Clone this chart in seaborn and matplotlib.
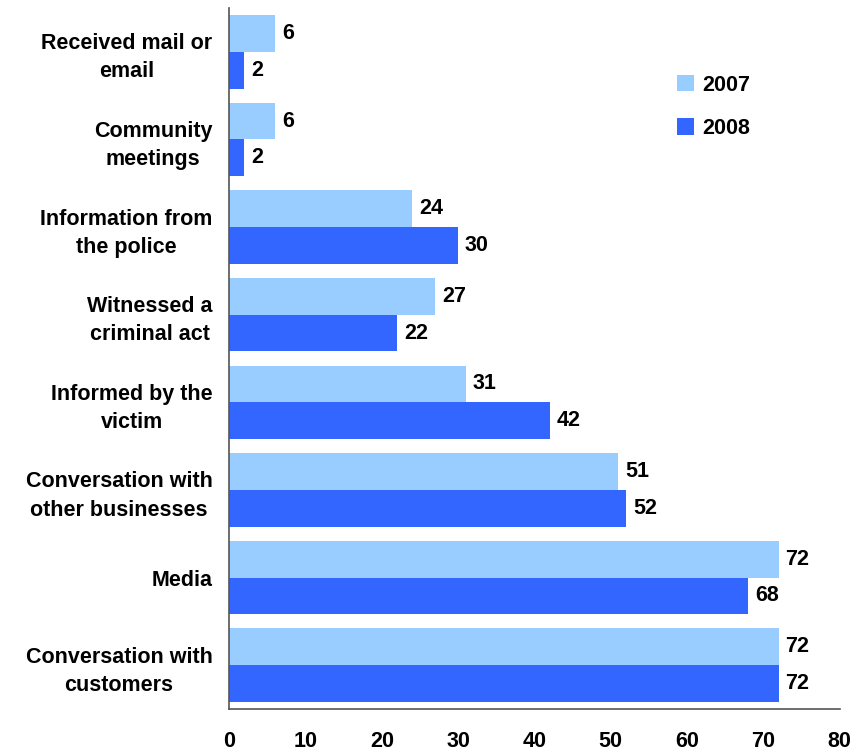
import matplotlib
matplotlib.use("Agg")
import matplotlib.pyplot as plt
import seaborn as sns
import pandas as pd
from matplotlib.patches import Patch

categories = ["Received mail or\nemail", "Community\nmeetings", "Information from\nthe police",
              "Witnessed a\ncriminal act", "Informed by the\nvictim",
              "Conversation with\nother businesses", "Media", "Conversation with\ncustomers"]
vals_2007 = [6, 6, 24, 27, 31, 51, 72, 72]
vals_2008 = [2, 2, 30, 22, 42, 52, 68, 72]
series = ["2007", "2008"]
colors = ["#99CCFF", "#3366FF"]
xticks = [0, 10, 20, 30, 40, 50, 60, 70, 80]

df = pd.DataFrame({
    "cat": categories * 2,
    "val": vals_2007 + vals_2008,
    "year": [series[0]] * len(categories) + [series[1]] * len(categories),
})

sns.set_style("white")
plt.rcParams["font.family"] = ["Liberation Sans", "DejaVu Sans"]
plt.rcParams["font.weight"] = "bold"
plt.rcParams["text.color"] = "black"
plt.rcParams["xtick.color"] = "black"
plt.rcParams["ytick.color"] = "black"

fig = plt.figure(figsize=(8.55, 7.53), dpi=100)
ax = fig.add_axes([0.268, 0.0584, 0.714, 0.931])
sns.barplot(data=df, y="cat", x="val", hue="year", palette=colors, orient="h",
            width=0.84, order=categories, hue_order=series, ax=ax, legend=False,
            saturation=1, linewidth=0)

fs = 15.5
for cont in ax.containers:
    ax.bar_label(cont, labels=[f"{v:g}" for v in cont.datavalues], padding=5,
                 fontsize=fs, fontweight="bold", color="black")

ax.set_xlim(0, 80)
ax.set_ylim(7.5, -0.5)
ax.set_xticks(xticks)
ax.set_xticklabels([str(t) for t in xticks], fontsize=fs, fontweight="bold")
ax.set_yticks(range(len(categories)))
ax.set_yticklabels(categories, fontsize=fs, fontweight="bold", ha="right",
                   multialignment="center", linespacing=1.45)
ax.tick_params(axis="y", length=0, pad=12)
ax.tick_params(axis="x", length=0, pad=16)
ax.set_xlabel("")
ax.set_ylabel("")
sns.despine(ax=ax, top=True, right=True)
for s in ["left", "bottom"]:
    ax.spines[s].set_color("#555555")
    ax.spines[s].set_linewidth(1.2)

handles = [Patch(facecolor=c, edgecolor="none") for c in colors]
leg = ax.legend(handles, series, loc="upper left", bbox_to_anchor=(0.733, 0.905),
                frameon=False, prop={"size": fs, "weight": "bold"},
                handlelength=0.8, handleheight=0.8, handletextpad=0.4, labelspacing=1.05,
                borderpad=0, borderaxespad=0)

fig.savefig("out.png", dpi=100)
